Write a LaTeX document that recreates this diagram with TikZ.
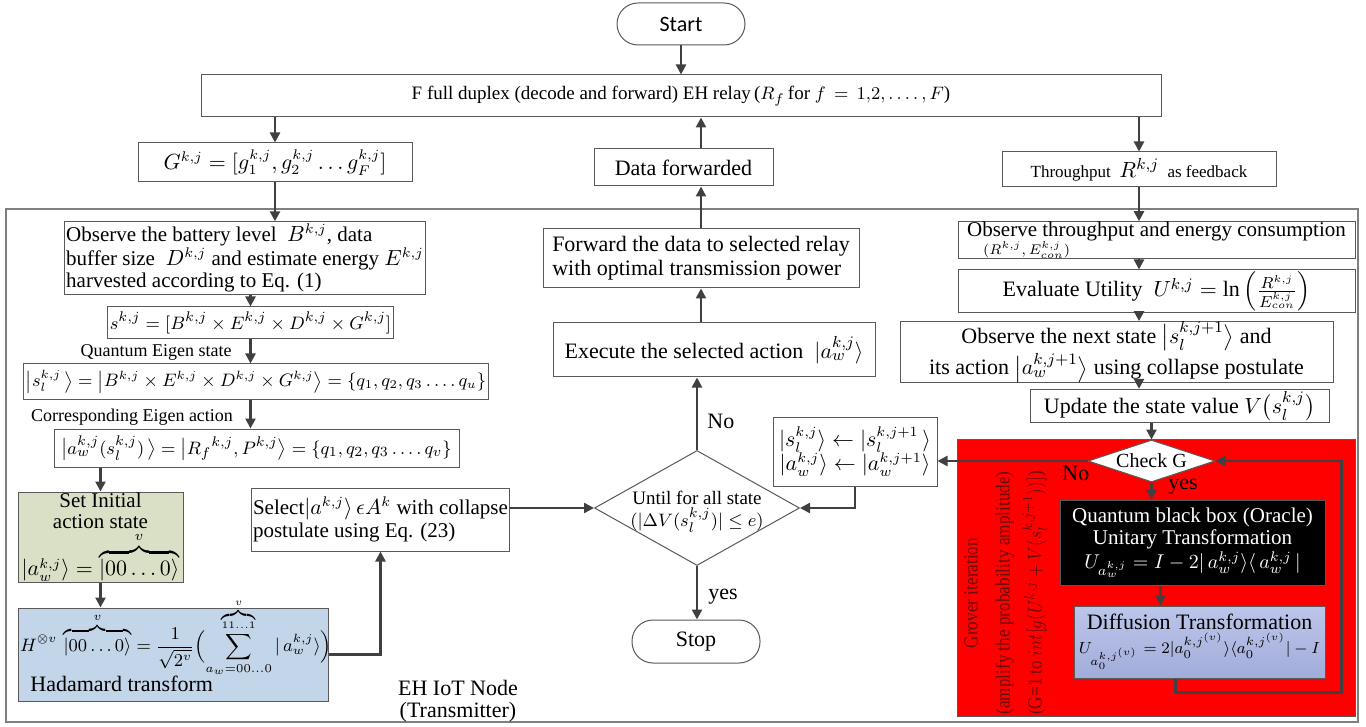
\documentclass[tikz,border=0pt]{standalone}
\usepackage{amsmath}
\usepackage{fontspec}
\setmainfont{Liberation Serif}
\newfontfamily\calfont{Carlito}
\usepackage{tikz}
\usetikzlibrary{shapes.geometric, arrows.meta, positioning, calc}
\definecolor{arrgray}{HTML}{404040}
\definecolor{boxgray}{HTML}{595959}
\definecolor{framegray}{HTML}{808080}
\definecolor{initgreen}{HTML}{D9E0C5}
\definecolor{hadblue}{HTML}{C3D5E8}
\definecolor{difftop}{HTML}{BCC6EA}
\definecolor{diffbot}{HTML}{A2ACDA}
\definecolor{groverred}{HTML}{FF0000}
\definecolor{grovertext}{HTML}{660A0A}

\begin{document}
\begin{tikzpicture}[
    x=0.5pt, y=-0.5pt,
    every node/.style={font=\fontsize{10.5}{11.5}\selectfont},
    box/.style={draw=boxgray, fill=white, line width=0.5pt, inner sep=1pt, align=center},
    term/.style={draw=boxgray, fill=white, line width=0.5pt, rounded corners=10.5pt, inner sep=0pt, minimum width=64pt, minimum height=21pt},
    decision/.style={diamond, draw=boxgray, fill=white, line width=0.5pt, inner sep=0pt},
    note/.style={inner sep=0pt, font=\fontsize{9}{10}\selectfont},
    arr/.style={-{Triangle[length=5pt, width=5pt]}, line width=1.2pt, draw=arrgray}
]
    \useasboundingbox (0,0) rectangle (1366,727);

    % top row
    \node[term, font=\calfont\fontsize{11}{12}\selectfont] (start) at (681,24) {Start};
    \node[box, minimum width=480pt, minimum height=21pt, font=\fontsize{9.5}{11}\selectfont] (relay) at (681,96) {F full duplex (decode and forward) EH relay\,($R_f$\,for $f\,=\,1{,}2, \ldots.\,, F$)};
    \node[box, minimum width=137pt, minimum height=19.5pt, font=\fontsize{10.5}{12}\selectfont] (gbox) at (275,162.5) {$G^{k,j} = [g_1^{k,j}, g_2^{k,j} \ldots g_F^{k,j}]$};
    \node[box, minimum width=89.5pt, minimum height=18.5pt, font=\fontsize{11}{12}\selectfont] (datafwd) at (683.5,167.5) {Data forwarded};
    \node[box, minimum width=137pt, minimum height=17.5pt, font=\fontsize{8.5}{10}\selectfont] (tput) at (1139,169.5) {Throughput \ {\fontsize{11}{12}\selectfont$R^{k,j}$} \ as feedback};

    % EH IoT node frame
    \node[draw=framegray, line width=0.6pt, minimum width=676pt, minimum height=256.5pt, inner sep=0pt] (iotnode) at (682,465.5) {};
    \node[align=center, font=\fontsize{11}{11}\selectfont] (iotlbl) at (458,701) {EH IoT Node\\(Transmitter)};

    % left column
    \node[box, align=left, minimum width=179pt, minimum height=32pt, font=\fontsize{10.5}{11}\selectfont] (obsbat) at (245,258) {Observe the battery level \ $B^{k,j}$, data\\buffer size \ $D^{k,j}$ and estimate energy $E^{k,j}$\\harvested according to Eq. (1)};
    \node[box, minimum width=139.5pt, minimum height=16pt, font=\fontsize{9.5}{11}\selectfont] (sbox) at (250.5,323) {$s^{k,j} = [B^{k,j} \times E^{k,j} \times D^{k,j} \times G^{k,j}]$};
    \node[note] (qlbl) at (156,352) {Quantum Eigen state};
    \node[box, minimum width=226pt, minimum height=17.5pt, font=\fontsize{9}{10}\selectfont] (slbox) at (256,381.5) {$\bigl|s_l^{k,j}\,\bigr\rangle = \bigl|B^{k,j} \times E^{k,j} \times D^{k,j} \times G^{k,j}\bigr\rangle = \{q_1, q_2, q_3 \ldots.\,q_u\}$};
    \node[note] (clbl) at (132,417) {Corresponding Eigen action};
    \node[box, minimum width=202.5pt, minimum height=19pt, font=\fontsize{9.5}{11}\selectfont] (awbox) at (256.5,448) {$\bigl|a_w^{k,j}(s_l^{k,j})\,\bigr\rangle = \bigl|{R_f}^{k,j}, P^{k,j}\bigr\rangle = \{q_1, q_2, q_3 \ldots.\,q_v\}$};
    \node[box, fill=initgreen, minimum width=82.5pt, minimum height=45pt, inner sep=0pt, font=\fontsize{10.5}{10.5}\selectfont] (initbox) at (100.5,537) {Set Initial\\action state\\[1pt]$|a_w^{k,j}\rangle = \overbrace{|00\ldots0\rangle}^{v}$};
    \node[box, fill=hadblue, minimum width=155pt, minimum height=46.5pt] (hadbox) at (173,654.5) {};
    \node[inner sep=0pt, font=\fontsize{9}{10}\selectfont] (hadeq) at (176,637) {$\displaystyle H^{\otimes v}\,\overbrace{|00\ldots0\rangle}^{v} = \frac{1}{\sqrt{2^v}}\Bigl(\sum_{a_w=00\ldots0}^{\overbrace{\scriptscriptstyle 11\ldots1}^{v}} |\,a_w^{k,j}\rangle\Bigr)$};
    \node[anchor=base west, inner sep=0pt, font=\fontsize{11}{12}\selectfont] (hadtxt) at (30,691) {Hadamard transform};
    \node[box, align=left, minimum width=127.5pt, minimum height=31.5pt] (selbox) at (380.5,519.5) {Select$|a^{k,j}\rangle\,\epsilon A^k$ with collapse\\postulate using Eq. (23)};

    % middle column
    \node[box, align=left, minimum width=158pt, minimum height=29.5pt, font=\fontsize{11}{12}\selectfont] (fwdrelay) at (701,258.5) {Forward the data to selected relay\\with optimal transmission power};
    \node[box, minimum width=161pt, minimum height=27pt, font=\fontsize{11}{12}\selectfont] (exec) at (714,350) {Execute the selected action \ $|a_w^{k,j}\rangle$};
    \node[decision, minimum width=102.5pt, minimum height=57.5pt] (until) at (697,508) {};
    \node[align=center, inner sep=0pt, font=\fontsize{9.5}{11}\selectfont] (untiltxt) at (697,512) {Until for all state\\$(|\Delta V(s_l^{k,j})| \le e)$};
    \node[term, minimum height=21.5pt, font=\fontsize{11}{12}\selectfont] (stop) at (696,641.5) {Stop};
    \node[box, minimum width=82pt, minimum height=34.5pt, font=\fontsize{10.5}{12}\selectfont] (upd) at (855,451.5) {$|s_l^{k,j}\rangle \leftarrow |s_l^{k,j+1}\,\rangle$\\$|a_w^{k,j}\rangle \leftarrow |a_w^{k,j+1}\rangle$};
    \node[anchor=west, inner sep=0pt, font=\fontsize{11}{12}\selectfont] (nolbl) at (707,421) {No};
    \node[anchor=west, inner sep=0pt, font=\fontsize{11}{12}\selectfont] (yeslbl) at (708,597) {yes};

    % right column
    \node[box, align=left, minimum width=198.5pt, minimum height=18pt, inner sep=0pt, font=\fontsize{10.5}{11}\selectfont] (obsthr) at (1156.5,240) {Observe throughput and energy consumption\\[-2pt]\hspace*{8pt}{\fontsize{7.5}{8}\selectfont$(R^{k,j}, E^{k,j}_{con})$}};
    \node[box, minimum width=198.5pt, minimum height=21.5pt, inner sep=0pt, font=\fontsize{11}{12}\selectfont] (evalu) at (1156.5,291.5) {Evaluate Utility \ $U^{k,j} = \ln\left(\frac{R^{k,j}}{E^{k,j}_{con}}\right)$};
    \node[box, minimum width=216.5pt, minimum height=21pt, inner sep=0pt, font=\fontsize{11}{11}\selectfont] (obsnext) at (1116.5,352) {Observe the next state $\bigl|s_l^{k,j+1}\bigr\rangle$ and\\its action $\bigl|a_w^{k,j+1}\bigr\rangle$ using collapse postulate};
    \node[box, minimum width=149.5pt, minimum height=16pt, font=\fontsize{11}{12}\selectfont] (updv) at (1179.5,406) {Update the state value $V\bigl(s_l^{k,j}\bigr)$};

    % Grover iteration
    \node[draw=boxgray, fill=groverred, line width=0.5pt, minimum width=199pt, minimum height=138.5pt, inner sep=0pt] (grover) at (1156,577.5) {};
    \node[rotate=90, xscale=0.86, align=center, text=grovertext, font=\fontsize{10}{16}\selectfont] (grovtxt) at (1006,593) {Grover iteration\\(amplify the probability amplitude)\\(G=1 to $int[g(U^{k,j} + V(s_l^{k,j+1}))]$)};
    \node[decision, minimum width=63.5pt, minimum height=21pt] (checkg) at (1151.5,461) {};
    \node[inner sep=0pt, font=\fontsize{10}{11}\selectfont] (checktxt) at (1151.5,461) {Check G};
    \node[box, fill=black, text=white, minimum width=132.5pt, minimum height=42.5pt, inner sep=0pt, font=\fontsize{10.5}{11}\selectfont] (oracle) at (1192.5,542.5) {Quantum black box (Oracle)\\Unitary Transformation\\[1pt]{\fontsize{10}{11}\selectfont$U_{a_w^{k,j}} = I - 2|\,a_w^{k,j}\rangle\langle\, a_w^{k,j}\,|$}};
    \node[box, top color=difftop, bottom color=diffbot, minimum width=125.5pt, minimum height=36pt, inner sep=0pt, font=\fontsize{11}{12}\selectfont] (diff) at (1199.5,642) {Diffusion Transformation\\{\fontsize{8.5}{10}\selectfont$U_{a_0^{k,j^{(v)}}} = 2|a_0^{k,j^{(v)}}\rangle\langle a_0^{k,j^{(v)}}| - I$}};
    \node[anchor=west, inner sep=0pt, font=\fontsize{11}{12}\selectfont] (nog) at (1062,473) {No};
    \node[anchor=west, inner sep=0pt, font=\fontsize{11}{12}\selectfont] (yesg) at (1168,487) {yes};

    % connectors
    \draw[arr] (start.south) -- (start.south |- relay.north);
    \draw[arr] (gbox.north |- relay.south) -- (gbox.north);
    \draw[arr] (tput.north |- relay.south) -- (tput.north);
    \draw[arr] (fwdrelay.north |- datafwd.north) -- (fwdrelay.north |- relay.south);
    \draw[arr] (fwdrelay.north) -- (fwdrelay.north |- datafwd.south);
    \draw[arr] (gbox.south) -- (gbox.south |- obsbat.north);
    \draw[arr] (sbox.north |- obsbat.south) -- (sbox.north);
    \draw[arr] (sbox.south) -- (sbox.south |- slbox.north);
    \draw[arr] (sbox.south |- slbox.south) -- (sbox.south |- awbox.north);
    \draw[arr] (initbox.north |- awbox.south) -- (initbox.north);
    \draw[arr] (initbox.south) -- (initbox.south |- hadbox.north);
    \draw[arr] (hadbox.east) -| (selbox.south);
    \draw[arr] (selbox.east |- until.west) -- (until.west);
    \draw[arr] (until.north) -- (until.north |- exec.south);
    \draw[arr] (fwdrelay.south |- exec.north) -- (fwdrelay.south);
    \draw[arr] (until.south) -- (until.south |- stop.north);
    \draw[arr] (upd.south) |- (until.east);
    \draw[arr] (tput.south) -- (tput.south |- obsthr.north);
    \draw[arr] (tput.south |- obsthr.south) -- (tput.south |- evalu.north);
    \draw[arr] (tput.south |- evalu.south) -- (tput.south |- obsnext.north);
    \draw[arr] (tput.south |- obsnext.south) -- (tput.south |- updv.north);
    \draw[arr] (checkg.north |- updv.south) -- (checkg.north);
    \draw[arr] (checkg.west) -- (checkg.west -| upd.east);
    \draw[arr] (checkg.south) -- (checkg.south |- oracle.north);
    \draw[arr] ([xshift=-16pt]oracle.south) -- ([xshift=-16pt]oracle.south |- diff.north);
    \draw[arr] ([xshift=-12pt]diff.south) -- ++(0,14) -| ($(checkg.east)+(126,0)$) -- (checkg.east);
\end{tikzpicture}
\end{document}
